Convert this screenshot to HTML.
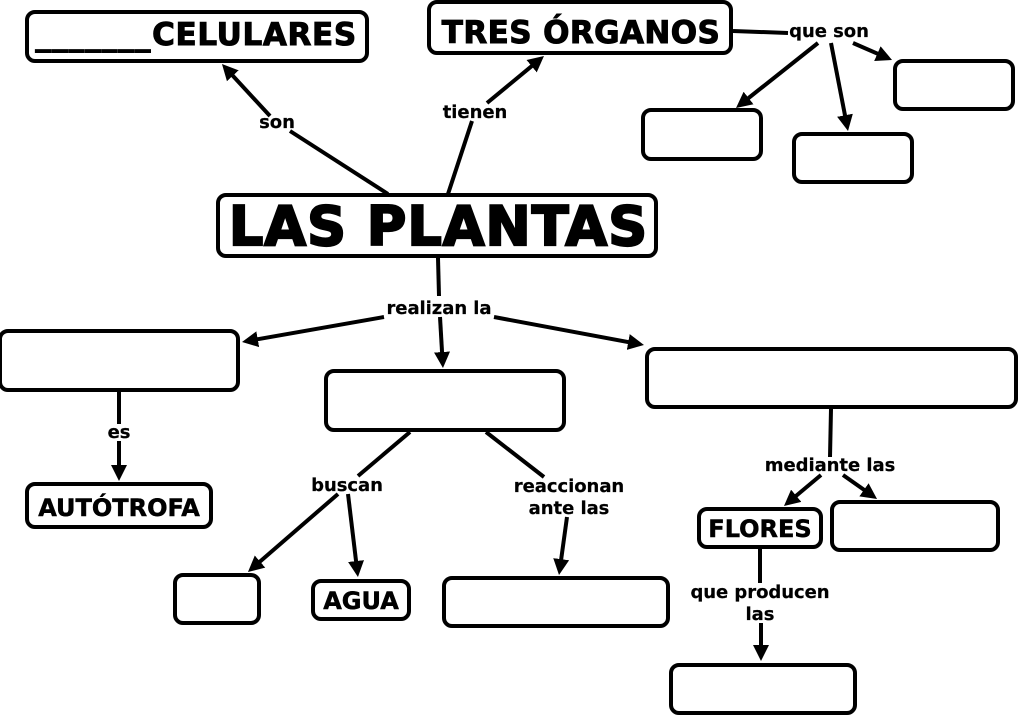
<!DOCTYPE html>
<html><head><meta charset="utf-8"><style>
html,body{margin:0;padding:0;background:#fff;width:1019px;height:716px;overflow:hidden}
svg{display:block}
rect{fill:#fff;stroke:#000;stroke-width:4}
line{stroke:#000;stroke-width:4}
.a{marker-end:url(#ah)}
text{font-family:"DejaVu Sans",Verdana,sans-serif;font-weight:bold;fill:#000;stroke:#000;text-anchor:middle}
.l{font-size:18px;stroke-width:.2px;letter-spacing:-.05px}
.m{font-size:24px;stroke-width:.5px}
.h{font-size:31px;stroke-width:1px;letter-spacing:.4px}
</style></head><body>
<svg width="1019" height="716" viewBox="0 0 1019 716" xmlns="http://www.w3.org/2000/svg">
<defs><marker id="ah" markerUnits="userSpaceOnUse" markerWidth="20" markerHeight="20" refX="8" refY="10" orient="auto"><path d="M0 2L16 10L0 18Z" fill="#000"/></marker></defs>

<line x1="388" y1="194" x2="290" y2="131"/>
<line class="a" x1="270" y1="116" x2="227.4" y2="69.9"/>
<line x1="448" y1="194" x2="472" y2="121"/>
<line class="a" x1="487" y1="103" x2="537.8" y2="61.1"/>
<line x1="733" y1="31" x2="788" y2="33"/>
<line class="a" x1="818" y1="43" x2="742.3" y2="103"/>
<line class="a" x1="831" y1="43" x2="846.5" y2="123.1"/>
<line class="a" x1="853" y1="43" x2="884.7" y2="56.8"/>
<line x1="438" y1="258" x2="439" y2="296"/>
<line class="a" x1="384" y1="317" x2="249.9" y2="340.6"/>
<line class="a" x1="440" y1="317" x2="442.5" y2="360"/>
<line class="a" x1="494" y1="317" x2="636.1" y2="343.5"/>
<line x1="119" y1="392" x2="119" y2="424"/>
<line class="a" x1="119" y1="441" x2="119" y2="473"/>
<line x1="410" y1="432" x2="358" y2="476"/>
<line class="a" x1="338" y1="494" x2="254" y2="566.8"/>
<line class="a" x1="348" y1="494" x2="357" y2="569"/>
<line x1="486" y1="432" x2="544" y2="477"/>
<line class="a" x1="567" y1="517" x2="560.1" y2="567.1"/>
<line x1="831" y1="409" x2="830" y2="457"/>
<line class="a" x1="821" y1="475" x2="790.1" y2="500.9"/>
<line class="a" x1="843" y1="475" x2="870.5" y2="494.4"/>
<line x1="760" y1="549" x2="760" y2="583"/>
<line class="a" x1="761" y1="623" x2="761" y2="653"/>

<rect x="27" y="12" width="340" height="49" rx="8"/>
<rect x="429" y="2" width="302" height="51" rx="8"/>
<rect x="218" y="195" width="438" height="61" rx="8"/>
<rect x="895" y="61" width="118" height="48" rx="8"/>
<rect x="643" y="110" width="118" height="49" rx="8"/>
<rect x="794" y="134" width="118" height="48" rx="8"/>
<rect x="0" y="331" width="238" height="59" rx="8"/>
<rect x="326" y="371" width="238" height="59" rx="8"/>
<rect x="647" y="349" width="369" height="58" rx="8"/>
<rect x="27" y="484" width="184" height="43" rx="8"/>
<rect x="175" y="575" width="84" height="48" rx="8"/>
<rect x="313" y="581" width="96" height="38" rx="8"/>
<rect x="444" y="578" width="224" height="48" rx="8"/>
<rect x="699" y="509" width="122" height="38" rx="8"/>
<rect x="832" y="502" width="166" height="48" rx="8"/>
<rect x="671" y="665" width="184" height="48" rx="8"/>

<text class="h" x="93.5" y="45" style="letter-spacing:1.1px">_______</text>
<text class="h" x="254.5" y="45" style="letter-spacing:.65px">CELULARES</text>
<text class="h" x="581" y="43">TRES ÓRGANOS</text>
<text x="438.5" y="245" font-size="54" stroke-width="2.2" letter-spacing="1">LAS PLANTAS</text>
<text class="m" x="119" y="516">AUTÓTROFA</text>
<text class="m" x="361" y="609">AGUA</text>
<text class="m" x="760" y="537">FLORES</text>

<text class="l" x="277" y="128">son</text>
<text class="l" x="475" y="118">tienen</text>
<text class="l" x="829" y="37">que son</text>
<text class="l" x="439" y="314">realizan la</text>
<text class="l" x="119" y="438">es</text>
<text class="l" x="347" y="491">buscan</text>
<text class="l" x="569" y="492">reaccionan</text>
<text class="l" x="569" y="514">ante las</text>
<text class="l" x="830" y="471">mediante las</text>
<text class="l" x="760" y="598">que producen</text>
<text class="l" x="760" y="620">las</text>
</svg>
</body></html>
